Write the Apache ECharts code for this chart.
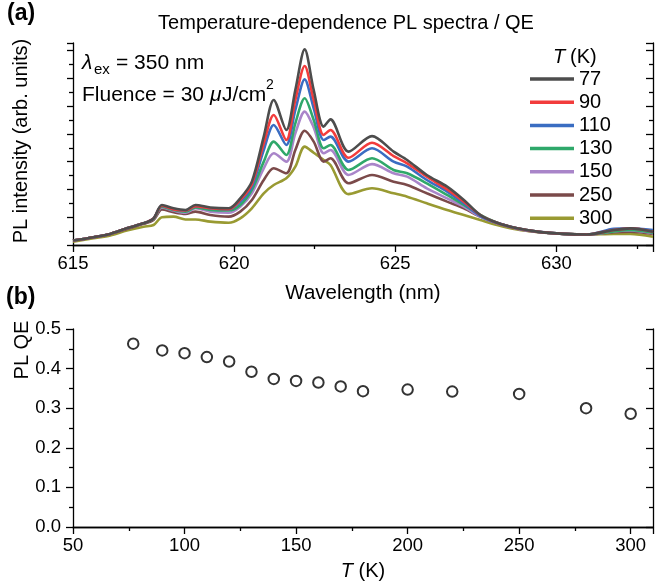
<!DOCTYPE html>
<html>
<head>
<meta charset="utf-8">
<script src="https://cdn.jsdelivr.net/npm/echarts@6/dist/echarts.min.js"></script>
<style>html,body{margin:0;padding:0;background:#fff}#c{width:663px;height:582px}</style>
</head>
<body>
<div id="c"></div>
<script>
// ---- data ----
var wavelengths = [615.0,615.64,616.16,616.67,617.19,617.5,617.76,618.12,618.49,618.8,619.26,619.83,620.19,620.55,620.92,621.23,621.62,621.9,622.19,622.47,622.78,622.99,623.55,624.28,624.95,625.37,625.98,626.61,627.13,627.64,628.16,628.78,629.40,630.23,630.95,631.78,632.30,633.0];
var temps = ['77','90','110','130','150','250','300'];
var pl77  = [0.16,0.28,0.40,0.60,0.78,0.96,1.44,1.32,1.26,1.44,1.35,1.32,1.68,2.28,3.90,5.22,4.14,5.58,7.04,5.58,4.26,4.52,3.36,3.92,3.36,3.06,2.52,2.10,1.62,1.08,0.80,0.60,0.48,0.40,0.38,0.54,0.60,0.48];
var pl90  = [0.16,0.28,0.40,0.60,0.78,0.96,1.41,1.28,1.24,1.40,1.32,1.29,1.62,2.19,3.66,4.68,3.78,5.22,6.44,5.22,3.96,4.14,3.14,3.68,3.20,2.94,2.46,2.00,1.56,1.08,0.80,0.60,0.48,0.40,0.38,0.54,0.60,0.48];
var pl110 = [0.16,0.28,0.40,0.60,0.78,0.96,1.41,1.28,1.24,1.40,1.32,1.28,1.56,2.10,3.42,4.32,3.60,4.86,5.96,4.92,3.78,3.90,3.00,3.48,3.00,2.82,2.34,1.92,1.50,1.04,0.80,0.60,0.48,0.40,0.38,0.58,0.60,0.54];
var pl130 = [0.16,0.28,0.40,0.60,0.78,0.94,1.38,1.26,1.20,1.35,1.26,1.24,1.44,1.98,3.00,3.72,3.24,4.38,5.28,4.50,3.48,3.60,2.70,3.12,2.70,2.58,2.22,1.80,1.44,1.08,0.80,0.60,0.48,0.40,0.38,0.49,0.54,0.44];
var pl150 = [0.16,0.28,0.40,0.60,0.78,0.94,1.35,1.24,1.16,1.32,1.20,1.16,1.38,1.86,2.76,3.30,3.00,4.02,4.80,4.23,3.30,3.42,2.52,2.91,2.58,2.46,2.04,1.68,1.38,1.02,0.78,0.59,0.48,0.40,0.37,0.49,0.52,0.42];
var pl250 = [0.16,0.28,0.40,0.58,0.76,0.90,1.28,1.18,1.12,1.20,1.08,1.02,1.20,1.62,2.34,2.76,2.58,3.42,4.11,3.72,3.00,3.12,2.22,2.52,2.28,2.16,1.86,1.56,1.32,1.02,0.78,0.59,0.47,0.40,0.37,0.46,0.48,0.40];
var pl300 = [0.12,0.24,0.34,0.52,0.66,0.72,1.00,1.02,0.92,0.92,0.84,0.80,0.96,1.32,1.86,2.16,2.40,2.82,3.54,3.32,3.06,2.88,1.83,2.04,1.86,1.74,1.50,1.26,1.08,0.90,0.72,0.56,0.47,0.40,0.37,0.40,0.40,0.30];
var qeT   = [77,90,100,110,120,130,140,150,160,170,180,200,220,250,280,300];
var qeVal = [0.463,0.446,0.439,0.429,0.418,0.392,0.374,0.369,0.365,0.355,0.343,0.347,0.342,0.336,0.300,0.286];
var yTicksB = ['0.0','0.1','0.2','0.3','0.4','0.5'];

var colors = ['#4d4d4d','#f23c3c','#3a6dc2','#2fa86a','#a985c9','#7b4a4a','#999a32'];
var spectra = [pl77,pl90,pl110,pl130,pl150,pl250,pl300];

var FONT = 'Liberation Sans, Arial, sans-serif';
var chart = echarts.init(document.getElementById('c'), null, {renderer:'canvas'});

function pairs(xs, ys){ return xs.map(function(x,i){ return [x, ys[i]]; }); }

var series = spectra.map(function(arr, i){
  return {
    name: temps[i], type:'line', xAxisIndex:0, yAxisIndex:0,
    data: pairs(wavelengths, arr), showSymbol:false, smooth:0.3,
    lineStyle:{color:colors[i], width:2.6}, itemStyle:{color:colors[i]},
    z: 10 - i
  };
}).reverse();
series.push({
  type:'scatter', xAxisIndex:2, yAxisIndex:2, data: pairs(qeT, qeVal),
  symbol:'circle', symbolSize:10.5,
  itemStyle:{color:'#fff', borderColor:'#000', borderWidth:2}
});

var lineBlack = {show:true, lineStyle:{color:'#000', width:1.3}};
var tickLbl = {color:'#000', fontSize:18.5, fontFamily:FONT};
function tick(inside, len){ return {show:true, inside:inside, length:len, lineStyle:{color:'#000', width:1.3}}; }
function minor(len){ return {show:true, splitNumber:2, length:len, lineStyle:{color:'#000', width:1.3}}; }

var option = {
  animation:false,
  backgroundColor:'#fff',
  legend: {
    data: temps, orient:'vertical', left:530, top:69, padding:0,
    icon:'rect', itemWidth:44, itemHeight:3.5, itemGap:3.2,
    textStyle:{color:'#000', fontSize:20, fontFamily:FONT, lineHeight:20},
    selectedMode:false
  },
  grid: [
    {left:73, right:10, top:43, height:202},
    {left:73, right:10, top:329, height:202}
  ],
  xAxis: [
    {gridIndex:0, type:'value', min:615, max:633, interval:5,
     axisLine:lineBlack, axisTick:tick(false,7), minorTick:minor(4),
     axisLabel:Object.assign({margin:9, showMaxLabel:false}, tickLbl), splitLine:{show:false},
     name:'Wavelength (nm)', nameLocation:'middle', nameGap:38,
     nameTextStyle:{color:'#000', fontSize:20.5, fontFamily:FONT}},
    {gridIndex:0, type:'value', position:'top', min:615, max:633,
     axisLine:lineBlack, axisTick:{show:false}, axisLabel:{show:false}, splitLine:{show:false}},
    {gridIndex:1, type:'value', min:50, max:310, interval:50,
     axisLine:lineBlack, axisTick:tick(false,7), minorTick:minor(4),
     axisLabel:Object.assign({margin:9, showMaxLabel:false}, tickLbl), splitLine:{show:false},
     name:'{i|T} (K)', nameLocation:'middle', nameGap:34,
     nameTextStyle:{color:'#000', fontSize:20, fontFamily:FONT,
       rich:{i:{fontStyle:'italic', fontSize:20, fontFamily:FONT, color:'#000'}}}},
    {gridIndex:1, type:'value', position:'top', min:50, max:310,
     axisLine:lineBlack, axisTick:{show:false}, axisLabel:{show:false}, splitLine:{show:false}}
  ],
  yAxis: [
    {gridIndex:0, type:'value', min:0, max:7.27, interval:1,
     axisLine:lineBlack, axisTick:tick(false,6), minorTick:minor(4),
     axisLabel:{show:false}, splitLine:{show:false}},
    {gridIndex:0, type:'value', position:'right', min:0, max:7.27, interval:1,
     axisLine:lineBlack, axisTick:tick(true,7), minorTick:minor(4),
     axisLabel:{show:false}, splitLine:{show:false}},
    {gridIndex:1, type:'value', min:0, max:0.5, interval:0.1,
     axisLine:lineBlack, axisTick:tick(false,7), minorTick:minor(4),
     axisLabel:Object.assign({margin:12, formatter:function(v){ return yTicksB[Math.round(v*10)]; }}, tickLbl),
     splitLine:{show:false}},
    {gridIndex:1, type:'value', position:'right', min:0, max:0.5, interval:0.1,
     axisLine:lineBlack, axisTick:tick(true,7), minorTick:minor(4),
     axisLabel:{show:false}, splitLine:{show:false}}
  ],
  graphic: [
    {type:'text', left:7, top:2, style:{text:'(a)', font:'bold 23px '+FONT, fill:'#000'}},
    {type:'text', left:6, top:286, style:{text:'(b)', font:'bold 23px '+FONT, fill:'#000'}},
    {type:'text', x:346, y:23, style:{text:'Temperature-dependence PL spectra / QE', font:'20px '+FONT, fill:'#000', textAlign:'center', textVerticalAlign:'middle'}},
    {type:'text', x:21, y:141, rotation:Math.PI/2, style:{text:'PL intensity (arb. units)', font:'20px '+FONT, fill:'#000', textAlign:'center', textVerticalAlign:'middle'}},
    {type:'text', x:22, y:350, rotation:Math.PI/2, style:{text:'PL QE', font:'20px '+FONT, fill:'#000', textAlign:'center', textVerticalAlign:'middle'}},
    {type:'text', x:82, y:63, style:{text:'λ', font:'italic 21px '+FONT, fill:'#000', textVerticalAlign:'middle'}},
    {type:'text', x:94, y:70, style:{text:'ex', font:'15px '+FONT, fill:'#000', textVerticalAlign:'middle'}},
    {type:'text', x:116, y:63, style:{text:'= 350 nm', font:'21px '+FONT, fill:'#000', textVerticalAlign:'middle'}},
    {type:'text', x:82, y:95, style:{text:'Fluence = 30 ', font:'21px '+FONT, fill:'#000', textVerticalAlign:'middle'}},
    {type:'text', x:210, y:95, style:{text:'μ', font:'italic 21px '+FONT, fill:'#000', textVerticalAlign:'middle'}},
    {type:'text', x:222, y:95, style:{text:'J/cm', font:'21px '+FONT, fill:'#000', textVerticalAlign:'middle'}},
    {type:'text', x:266, y:85, style:{text:'2', font:'14px '+FONT, fill:'#000', textVerticalAlign:'middle'}},
    {type:'text', x:553, y:57, style:{text:'T', font:'italic 20px '+FONT, fill:'#000', textVerticalAlign:'middle'}},
    {type:'text', x:570, y:57, style:{text:'(K)', font:'20px '+FONT, fill:'#000', textVerticalAlign:'middle'}}
  ],
  series: series
};
chart.setOption(option);
</script>
</body>
</html>
